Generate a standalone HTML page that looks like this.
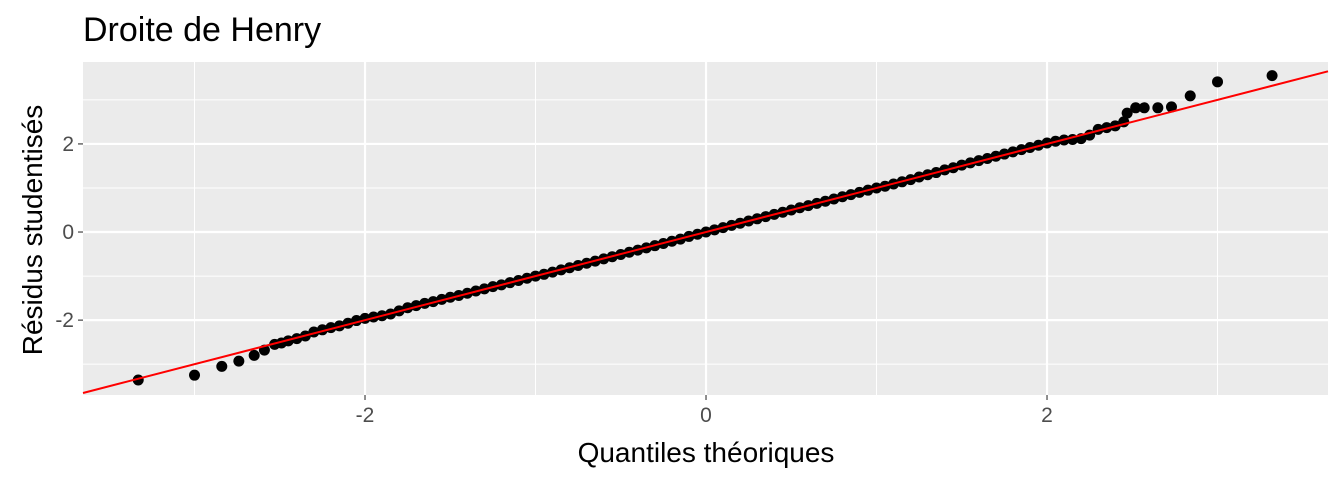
<!DOCTYPE html>
<html><head><meta charset="utf-8"><style>
body{margin:0;background:#fff;}
svg text{font-family:"Liberation Sans",sans-serif;}
</style></head><body>
<svg id="chart" width="1344" height="480" xmlns="http://www.w3.org/2000/svg">
<text x="83" y="41" font-size="34" fill="#000">Droite de Henry</text>
<rect x="83" y="62" width="1245" height="333" fill="#ebebeb"/>
<g id="grid"></g>
<g id="points"></g>
<g id="line"></g>
<g id="axes"></g>
<text x="706" y="462" font-size="28" text-anchor="middle" fill="#000">Quantiles théoriques</text>
<text transform="translate(42,230) rotate(-90)" font-size="28" text-anchor="middle" fill="#000">Résidus studentisés</text>
</svg>
<script>
const xTicks=[-2,0,2];
const yTicks=[-2,0,2];
const xMinor=[-3,-1,1,3];
const yMinor=[-3,-1,1,3];
const theoretical=[-3.33,-3.00,-2.84,-2.74,-2.65,-2.59,-2.53,-2.49,
-2.45,-2.40,-2.35,-2.30,-2.25,-2.20,-2.15,-2.10,-2.05,-2.00,-1.95,-1.90,-1.85,-1.80,-1.75,-1.70,-1.65,-1.60,-1.55,-1.50,-1.45,-1.40,-1.35,-1.30,-1.25,-1.20,-1.15,-1.10,-1.05,-1.00,-0.95,-0.90,-0.85,-0.80,-0.75,-0.70,-0.65,-0.60,-0.55,-0.50,-0.45,-0.40,-0.35,-0.30,-0.25,-0.20,-0.15,-0.10,-0.05,0.00,0.05,0.10,0.15,0.20,0.25,0.30,0.35,0.40,0.45,0.50,0.55,0.60,0.65,0.70,0.75,0.80,0.85,0.90,0.95,1.00,1.05,1.10,1.15,1.20,1.25,1.30,1.35,1.40,1.45,1.50,1.55,1.60,1.65,1.70,1.75,1.80,1.85,1.90,1.95,2.00,2.05,2.10,2.15,2.20,2.25,2.30,2.35,2.40,2.45,
2.47,2.52,2.57,2.65,2.73,2.84,3.00,3.32];
const residuals=[-3.36,-3.25,-3.05,-2.93,-2.80,-2.68,-2.55,-2.52,
-2.47,-2.42,-2.36,-2.27,-2.22,-2.17,-2.13,-2.07,-2.01,-1.96,-1.93,-1.90,-1.86,-1.79,-1.72,-1.67,-1.62,-1.58,-1.53,-1.48,-1.44,-1.39,-1.34,-1.29,-1.24,-1.20,-1.15,-1.10,-1.05,-1.00,-0.96,-0.91,-0.86,-0.81,-0.76,-0.71,-0.66,-0.61,-0.56,-0.51,-0.46,-0.41,-0.36,-0.31,-0.26,-0.21,-0.16,-0.10,-0.05,0.00,0.05,0.10,0.15,0.20,0.25,0.30,0.35,0.40,0.45,0.50,0.55,0.60,0.65,0.70,0.75,0.80,0.85,0.90,0.95,1.00,1.04,1.09,1.14,1.19,1.25,1.30,1.35,1.41,1.46,1.52,1.57,1.62,1.67,1.72,1.77,1.82,1.87,1.92,1.97,2.02,2.06,2.09,2.10,2.12,2.20,2.33,2.37,2.41,2.50,
2.70,2.82,2.82,2.82,2.84,3.09,3.41,3.55];
const lineSlope=[1.0];
const lineIntercept=[0.0];
const NS="http://www.w3.org/2000/svg";
const L=83,R=1328,T=62,B=395;
const xMin=-3.654,xMax=3.648,yMin=-3.70,yMax=3.86;
const sx=v=>L+(v-xMin)/(xMax-xMin)*(R-L);
const sy=v=>B-(v-yMin)/(yMax-yMin)*(B-T);
function mk(tag,attrs,parent){const e=document.createElementNS(NS,tag);for(const k in attrs)e.setAttribute(k,attrs[k]);parent.appendChild(e);return e;}
const grid=document.getElementById('grid');
xMinor.forEach(v=>{const e=mk('line',{x1:sx(v),x2:sx(v),y1:T,y2:B,stroke:'#fff','stroke-width':1},grid);

});
yMinor.forEach(v=>{const e=mk('line',{x1:L,x2:R,y1:sy(v),y2:sy(v),stroke:'#fff','stroke-width':1},grid);

});
const axes=document.getElementById('axes');
xTicks.forEach(v=>{const e=mk('line',{x1:sx(v),x2:sx(v),y1:T,y2:B,stroke:'#fff','stroke-width':2.2},grid);


const t=mk('line',{x1:sx(v),x2:sx(v),y1:B,y2:B+5,stroke:'#333','stroke-width':1.1},axes);


const l=mk('text',{x:sx(v),y:B+27,'font-size':21,fill:'#4d4d4d','text-anchor':'middle'},axes);l.textContent=v;

});
yTicks.forEach(v=>{const e=mk('line',{x1:L,x2:R,y1:sy(v),y2:sy(v),stroke:'#fff','stroke-width':2.2},grid);


const t=mk('line',{x1:L-5,x2:L,y1:sy(v),y2:sy(v),stroke:'#333','stroke-width':1.1},axes);


const l=mk('text',{x:L-9,y:sy(v)+7,'font-size':21,fill:'#4d4d4d','text-anchor':'end'},axes);l.textContent=v;

});
const pts=document.getElementById('points');
theoretical.forEach((x,i)=>{const c=mk('circle',{cx:sx(x),cy:sy(residuals[i]),r:5.5,fill:'#000'},pts);

});
const lg=document.getElementById('line');
const ln=mk('line',{x1:sx(xMin),y1:sy(lineIntercept[0]+lineSlope[0]*xMin),x2:sx(xMax),y2:sy(lineIntercept[0]+lineSlope[0]*xMax),stroke:'#ff0000','stroke-width':2},lg);


</script>
</body></html>
